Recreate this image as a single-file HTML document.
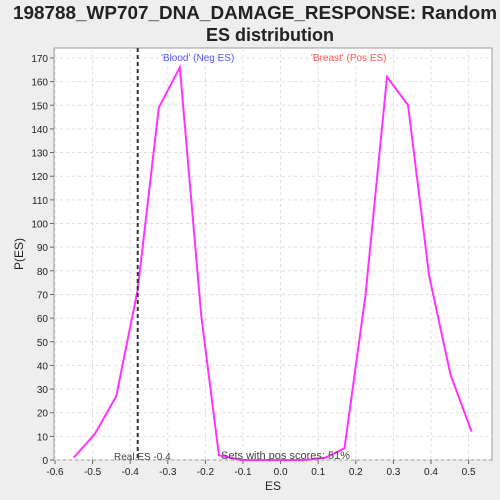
<!DOCTYPE html>
<html><head><meta charset="utf-8"><style>
html,body{margin:0;padding:0;overflow:hidden;background:#eeeeee;font-family:"Liberation Sans",sans-serif}
svg{display:block}
</style></head><body>
<svg width="500" height="500" xmlns="http://www.w3.org/2000/svg" font-family="Liberation Sans, sans-serif">
<rect width="500" height="500" fill="#eeeeee"/>
<text x="13" y="19" font-size="18" font-weight="bold" textLength="484" lengthAdjust="spacingAndGlyphs" fill="#222">198788_WP707_DNA_DAMAGE_RESPONSE: Random</text>
<text x="270" y="41" font-size="18" font-weight="bold" text-anchor="middle" fill="#222">ES distribution</text>
<rect x="54" y="48" width="438" height="412" fill="#fff" stroke="#999"/>
<g id="grid"></g><g id="axes"></g>
<polyline id="line" fill="none" stroke="#ff33ff" stroke-width="2"/>
<line id="real" stroke="#333" stroke-width="2" stroke-dasharray="4,3"/>
<text x="161" y="61" font-size="10" fill="#5555ff">'Blood' (Neg ES)</text>
<text x="311" y="61" font-size="10" fill="#ff5555">'Breast' (Pos ES)</text>
<text x="114" y="460" font-size="10" fill="#444">Real ES -0.4</text>
<text x="221" y="459" font-size="11" fill="#444">Sets with pos scores: 51%</text>
<text x="273" y="490" font-size="12" text-anchor="middle" fill="#222">ES</text>
<text x="23" y="254" font-size="12" text-anchor="middle" fill="#222" transform="rotate(-90 23 254)">P(ES)</text>
</svg>
<script>
const esValues=[-0.55,-0.494,-0.437,-0.38,-0.324,-0.268,-0.211,-0.164,-0.107,-0.05,0.006,0.063,0.12,0.17,0.226,0.283,0.339,0.395,0.452,0.508];
const counts=[1,11,27,72,149,166,61,2,0,0,0,0,1,5,70,162,150,78,36,12];
const xTicks=[-0.6,-0.5,-0.4,-0.3,-0.2,-0.1,0.0,0.1,0.2,0.3,0.4,0.5];
const yTicks=[0,10,20,30,40,50,60,70,80,90,100,110,120,130,140,150,160,170];
const realES=-0.38;
const X=v=>55+(v+0.6)*376, Y=v=>460-v*2.365;
const ns="http://www.w3.org/2000/svg";
const grid=document.getElementById('grid'), axes=document.getElementById('axes');
function mk(tag,attrs,parent){const e=document.createElementNS(ns,tag);for(const k in attrs)e.setAttribute(k,attrs[k]);parent.appendChild(e);return e;}
xTicks.forEach(t=>{const x=X(t);
const g=mk('line',{x1:x,x2:x,y1:48,y2:460,stroke:'#ddd','stroke-dasharray':'3,3'},grid);


mk('line',{x1:x,x2:x,y1:460,y2:464,stroke:'#666'},axes);
const l=mk('text',{x:x,y:475,'font-size':10,'text-anchor':'middle',fill:'#222'},axes);


l.textContent=t.toFixed(1);});
yTicks.forEach(t=>{const y=Y(t);
const g=mk('line',{x1:54,x2:492,y1:y,y2:y,stroke:'#ddd','stroke-dasharray':'3,3'},grid);


mk('line',{x1:50,x2:54,y1:y,y2:y,stroke:'#666'},axes);
const l=mk('text',{x:48,y:y+4,'font-size':10,'text-anchor':'end',fill:'#222'},axes);


l.textContent=t;});
document.getElementById('line').setAttribute('points',esValues.map((e,i)=>X(e)+','+Y(counts[i])).join(' '));
const r=document.getElementById('real');
r.setAttribute('x1',X(realES));r.setAttribute('x2',X(realES));r.setAttribute('y1',48);r.setAttribute('y2',460);
</script>
</body></html>
